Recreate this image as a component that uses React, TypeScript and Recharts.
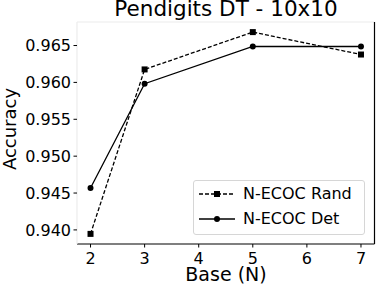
import { LineChart, Line, XAxis, YAxis, ReferenceLine } from "recharts";

const bases = [2, 3, 5, 7];
const randAcc = [0.93946, 0.96176, 0.96682, 0.96378];
const detAcc = [0.94568, 0.95982, 0.96487, 0.96487];
const xTicks = [2, 3, 4, 5, 6, 7];
const yTicks = [0.94, 0.945, 0.95, 0.955, 0.96, 0.965];
const seriesNames = ["N-ECOC Rand", "N-ECOC Det"];

const rows = bases.map((b, i) => ({ base: b, rand: randAcc[i], det: detAcc[i] }));

const FONT = "'DejaVu Sans', sans-serif";
const X_DOMAIN = [1.75, 7.25];
const Y_DOMAIN = [0.93809, 0.96819];

const SquareDot = (props: any) => {
  const { cx, cy, index } = props;
  return <rect key={`sq-${index}`} x={cx - 3} y={cy - 3} width={6} height={6} fill="#000" />;
};

function LegendSample({ dashed }: { dashed: boolean }) {
  return (
    <svg width={36} height={10} style={{ display: "block" }}>
      <line x1={0} y1={5} x2={36} y2={5} stroke="#000" strokeWidth={1.3} strokeDasharray={dashed ? "4 2" : undefined} />
      {dashed ? <rect x={15} y={2} width={6} height={6} fill="#000" /> : <circle cx={18} cy={5} r={3} fill="#000" />}
    </svg>
  );
}

export default function App() {
  return (
    <div style={{ position: "relative", width: 376, height: 288, background: "#fff", fontFamily: FONT, overflow: "hidden" }}>
      <style>{`body{margin:0}`}</style>
      <div style={{ position: "absolute", left: 0, width: 452, top: -1.5, fontSize: 21.5, lineHeight: "20px", textAlign: "center" }}>
        Pendigits DT - 10x10
      </div>
      <div style={{ position: "absolute", left: 0, width: 452, top: 266, fontSize: 19, lineHeight: "16px", textAlign: "center" }}>
        Base (N)
      </div>
      <div
        style={{
          position: "absolute", left: 8.5, top: 129, fontSize: 18, lineHeight: "15px", whiteSpace: "nowrap",
          transform: "translate(-50%, -50%) rotate(-90deg)",
        }}
      >
        Accuracy
      </div>
      <LineChart width={376} height={288} data={rows} margin={{ top: 22, right: 1.5, bottom: 14, left: 0 }}>
        <XAxis
          dataKey="base" type="number" domain={X_DOMAIN} ticks={xTicks} height={30}
          axisLine={{ stroke: "#000", strokeWidth: 1.2 }} tickLine={{ stroke: "#000" }} tickSize={3.5} tickMargin={5.5}
          tick={{ fill: "#000", fontSize: 16, fontFamily: FONT }} allowDataOverflow
        />
        <YAxis
          type="number" domain={Y_DOMAIN} ticks={yTicks} width={77}
          tickFormatter={(v: number) => v.toFixed(3)}
          axisLine={{ stroke: "#ececec", strokeWidth: 1.2 }} tickLine={{ stroke: "#000" }} tickSize={3.5} tickMargin={2.5}
          tick={{ fill: "#000", fontSize: 16, fontFamily: FONT }} allowDataOverflow
        />
        <ReferenceLine y={Y_DOMAIN[1]} stroke="#ececec" strokeWidth={1.2} />
        <ReferenceLine x={X_DOMAIN[1]} stroke="#000" strokeWidth={1.2} />
        <Line
          dataKey="rand" name={seriesNames[0]} stroke="#000" strokeWidth={1.3} strokeDasharray="4 2"
          dot={SquareDot} activeDot={false} isAnimationActive={false}
        />
        <Line
          dataKey="det" name={seriesNames[1]} stroke="#000" strokeWidth={1.3}
          dot={{ r: 3, fill: "#000", stroke: "#000", strokeWidth: 0 }} activeDot={false} isAnimationActive={false}
        />
      </LineChart>
      <div
        style={{
          position: "absolute", left: 193, top: 180, width: 172, height: 55, boxSizing: "border-box",
          border: "1px solid #d6d6d6", borderRadius: 3, background: "rgba(255,255,255,0.8)",
          padding: "2px 0 0 5px", fontSize: 16, lineHeight: "20px",
        }}
      >
        {seriesNames.map((n, i) => (
          <div key={n} style={{ display: "flex", alignItems: "center", height: 22, marginBottom: 3 }}>
            <LegendSample dashed={i === 0} />
            <span style={{ marginLeft: 8 }}>{n}</span>
          </div>
        ))}
      </div>
    </div>
  );
}
